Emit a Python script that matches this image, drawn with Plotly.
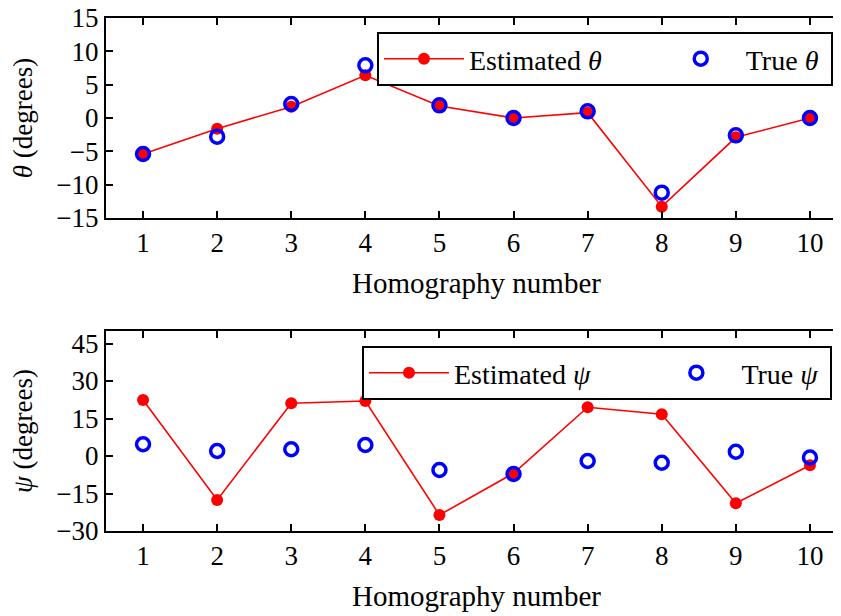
import plotly.graph_objects as go
from plotly.subplots import make_subplots

homography = [1, 2, 3, 4, 5, 6, 7, 8, 9, 10]
theta_est = [-5.4, -1.6, 1.7, 6.4, 1.8, 0.0, 0.8, -13.3, -2.9, 0.0]
theta_true = [-5.4, -2.8, 2.1, 7.9, 1.9, 0.0, 1.0, -11.2, -2.6, 0.0]
psi_est = [22.4, -17.6, 21.1, 22.0, -23.6, -6.9, 19.5, 16.7, -18.9, -3.7]
psi_true = [4.7, 2.0, 2.7, 4.4, -5.6, -7.2, -2.0, -2.7, 1.7, -0.6]

theta_ticks = [-15, -10, -5, 0, 5, 10, 15]
psi_ticks = [-30, -15, 0, 15, 30, 45]

FONT = "Liberation Serif"
FS = 27
FT = 29
FL = 28
W, H = 841, 616
ML, MR, MT, MB = 98, 2, 10, 93
NB = "\u00a0"

fig = make_subplots(rows=2, cols=1)

fig.add_trace(go.Scatter(x=homography, y=theta_est, mode="lines+markers",
                         name="Estimated <i>θ</i>" + NB * 7,
                         line=dict(color="red", width=1.6),
                         marker=dict(color="red", size=12, symbol="circle"),
                         legend="legend"), row=1, col=1)
fig.add_trace(go.Scatter(x=homography, y=theta_true, mode="markers",
                         name="True <i>θ</i>" + NB,
                         marker=dict(color="blue", size=13, symbol="circle-open",
                                     line=dict(width=3.5, color="blue")),
                         legend="legend"), row=1, col=1)
fig.add_trace(go.Scatter(x=homography, y=psi_est, mode="lines+markers",
                         name="Estimated <i>ψ</i>" + NB * 8,
                         line=dict(color="red", width=1.6),
                         marker=dict(color="red", size=12, symbol="circle"),
                         legend="legend2"), row=2, col=1)
fig.add_trace(go.Scatter(x=homography, y=psi_true, mode="markers",
                         name="True <i>ψ</i>" + NB,
                         marker=dict(color="blue", size=13, symbol="circle-open",
                                     line=dict(width=3.5, color="blue")),
                         legend="legend2"), row=2, col=1)

axis_common = dict(showline=True, linecolor="black", linewidth=2, mirror="ticks",
                   ticks="inside", ticklen=7, tickwidth=1.5, tickcolor="black",
                   showgrid=False, zeroline=False, automargin=False,
                   ticklabeloverflow="allow",
                   tickfont=dict(family=FONT, size=FS, color="black"))

plot_h = H - MT - MB
top_dom = [(H - MB - 210) / plot_h, 1.0]
bot_dom = [0.0, 200 / plot_h]

fig.update_xaxes(**axis_common, range=[0.5, 10.5], tickvals=homography,
                 title=dict(text="Homography number", font=dict(family=FONT, size=FT, color="black"),
                            standoff=15))
fig.update_yaxes(**axis_common)
fig.update_yaxes(range=[-15, 15], tickvals=theta_ticks, domain=top_dom,
                 title=dict(text="<i>θ</i> (degrees)", font=dict(family=FONT, size=FS, color="black"),
                            standoff=29), row=1, col=1)
fig.update_yaxes(range=[-30, 50], tickvals=psi_ticks, domain=bot_dom,
                 title=dict(text="<i>ψ</i> (degrees)", font=dict(family=FONT, size=FS, color="black"),
                            standoff=29), row=2, col=1)

plot_w = W - ML - MR
legend_common = dict(orientation="h", xanchor="right", yanchor="top",
                     bordercolor="black", borderwidth=2, bgcolor="white",
                     font=dict(family=FONT, size=FL, color="black"),
                     itemwidth=80)

fig.update_layout(
    width=W, height=H,
    margin=dict(l=ML, r=MR, t=MT, b=MB),
    paper_bgcolor="white", plot_bgcolor="white",
    font=dict(family=FONT, size=FS, color="black"),
    legend=dict(**legend_common, x=(825 - ML) / plot_w, y=1 - (24 - MT) / plot_h),
    legend2=dict(**legend_common, x=(824 - ML) / plot_w, y=(H - MB - 338) / plot_h),
)

fig.write_html("out.html")
